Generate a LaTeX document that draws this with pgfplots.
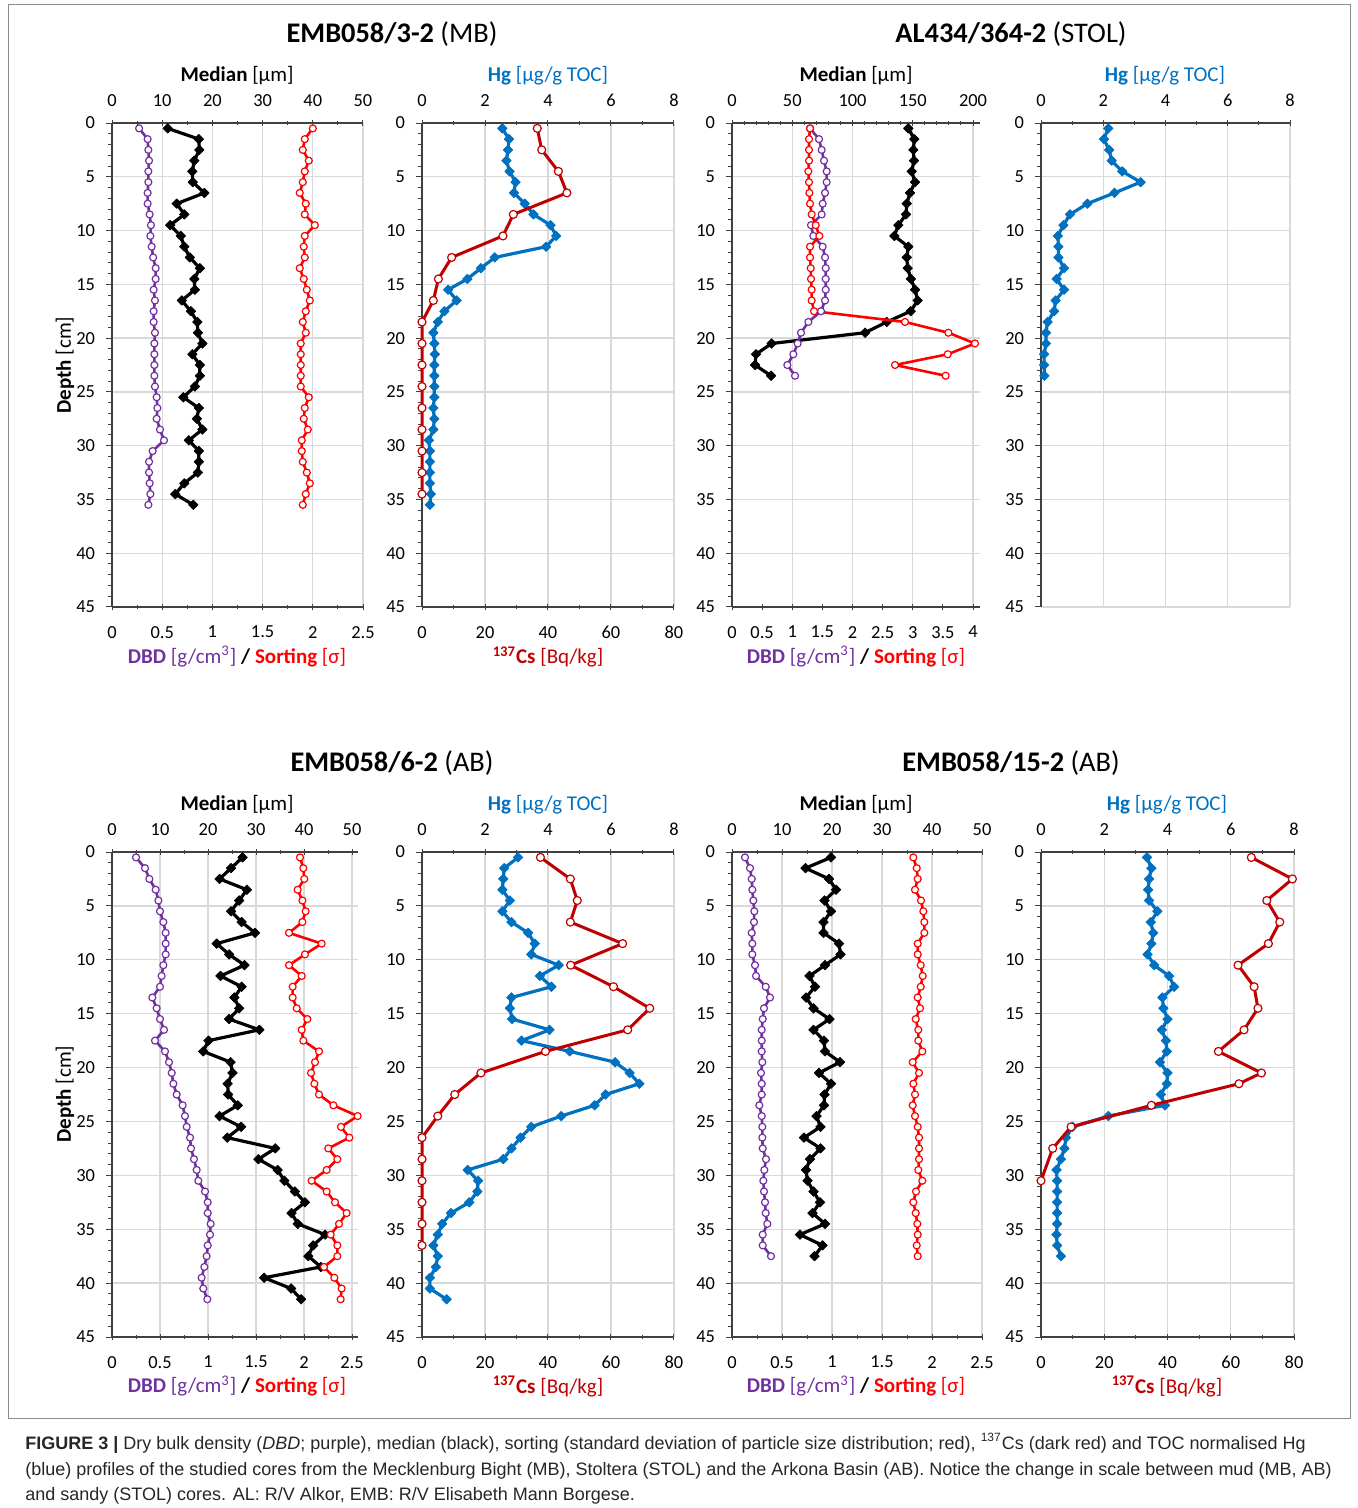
\documentclass[border=0pt]{standalone}
\usepackage{pgfplots}
\pgfplotsset{compat=1.18}
\usepackage{pgfplotstable}
\usepackage{graphicx}
\usepackage{fontspec}
\setmainfont{Carlito}
\newfontfamily\capfont{Liberation Sans}

\definecolor{purp}{HTML}{7030A0}
\definecolor{srtred}{HTML}{FF0000}
\definecolor{csred}{HTML}{C00000}
\definecolor{hgblue}{HTML}{0070C0}

\newcommand\labfont{\fontsize{10.5}{12}\selectfont}
\newcommand\titfont{\fontsize{14.2}{16}\selectfont}

% ---------- EMB058/3-2 ----------
\pgfplotstableread{
d dbd med srt
0.5 0.270 11.1 2.00
1.5 0.355 17.3 1.92
2.5 0.362 17.4 1.90
3.5 0.369 16.4 1.96
4.5 0.362 16.0 1.92
5.5 0.362 16.1 1.90
6.5 0.355 18.4 1.87
7.5 0.355 12.9 1.93
8.5 0.375 14.4 1.92
9.5 0.388 11.6 2.02
10.5 0.382 13.7 1.92
11.5 0.395 14.4 1.91
12.5 0.410 15.5 1.92
13.5 0.435 17.5 1.87
14.5 0.435 16.4 1.91
15.5 0.415 16.5 1.94
16.5 0.428 13.9 1.97
17.5 0.415 15.7 1.93
18.5 0.415 17.0 1.90
19.5 0.428 17.1 1.93
20.5 0.422 18.0 1.88
21.5 0.422 16.0 1.88
22.5 0.422 17.5 1.88
23.5 0.422 17.5 1.88
24.5 0.428 16.5 1.88
25.5 0.445 14.2 1.96
26.5 0.452 17.3 1.92
27.5 0.445 16.9 1.91
28.5 0.478 18.0 1.95
29.5 0.518 15.3 1.89
30.5 0.405 17.3 1.89
31.5 0.369 17.3 1.90
32.5 0.369 17.1 1.94
33.5 0.375 14.4 1.97
34.5 0.382 12.6 1.93
35.5 0.362 16.2 1.90
}\tA
\pgfplotstableread{
d hg
0.5 2.55
1.5 2.76
2.5 2.73
3.5 2.68
4.5 2.78
5.5 2.97
6.5 2.92
7.5 3.26
8.5 3.54
9.5 4.08
10.5 4.26
11.5 3.94
12.5 2.31
13.5 1.87
14.5 1.44
15.5 0.83
16.5 1.10
17.5 0.71
18.5 0.50
19.5 0.36
20.5 0.39
21.5 0.41
22.5 0.39
23.5 0.39
24.5 0.39
25.5 0.39
26.5 0.36
27.5 0.39
28.5 0.36
29.5 0.22
30.5 0.25
31.5 0.25
32.5 0.25
33.5 0.25
34.5 0.28
35.5 0.25
}\tB
\pgfplotstableread{
d cs
0.5 36.6
2.5 38.0
4.5 43.3
6.5 46.0
8.5 29.0
10.5 25.7
12.5 9.4
14.5 5.2
16.5 3.6
18.5 0
20.5 0
22.5 0
24.5 0
26.5 0
28.5 0
30.5 0
32.5 0
34.5 0
}\tBc
% ---------- AL434/364-2 ----------
\pgfplotstableread{
d dbd med srt
0.5 1.295 146.3 1.295
1.5 1.444 151.3 1.278
2.5 1.488 150.5 1.278
3.5 1.527 151.0 1.278
4.5 1.571 149.1 1.267
5.5 1.571 151.9 1.278
6.5 1.544 147.7 1.284
7.5 1.505 145.0 1.295
8.5 1.488 144.4 1.322
9.5 1.311 138.0 1.389
10.5 1.350 134.7 1.450
11.5 1.505 146.3 1.295
12.5 1.544 145.0 1.295
13.5 1.555 145.8 1.306
14.5 1.555 148.5 1.311
15.5 1.555 151.9 1.322
16.5 1.544 154.1 1.322
17.5 1.477 148.3 1.361
18.5 1.267 128.4 2.871
19.5 1.145 110.4 3.591
20.5 1.090 32.9 4.033
21.5 1.018 19.9 3.580
22.5 0.918 19.1 2.705
23.5 1.046 32.4 3.546
}\tC
\pgfplotstableread{
d hg
0.5 2.16
1.5 2.02
2.5 2.19
3.5 2.27
4.5 2.61
5.5 3.20
6.5 2.36
7.5 1.49
8.5 0.93
9.5 0.72
10.5 0.54
11.5 0.56
12.5 0.56
13.5 0.74
14.5 0.50
15.5 0.74
16.5 0.47
17.5 0.42
18.5 0.21
19.5 0.16
20.5 0.16
21.5 0.10
22.5 0.10
23.5 0.11
}\tD
% ---------- EMB058/6-2 ----------
\pgfplotstableread{
d dbd med srt
0.5 0.250 27.2 1.958
1.5 0.344 24.8 1.993
2.5 0.389 22.4 2.003
3.5 0.455 28.1 1.934
4.5 0.483 26.5 1.983
5.5 0.500 24.8 2.017
6.5 0.535 27.0 1.983
7.5 0.559 29.8 1.844
8.5 0.559 21.8 2.184
9.5 0.559 24.4 2.010
10.5 0.535 27.6 1.844
11.5 0.517 22.6 1.976
12.5 0.500 27.0 1.882
13.5 0.420 25.5 1.882
14.5 0.465 26.5 1.924
15.5 0.500 24.4 2.035
16.5 0.542 30.7 1.976
17.5 0.448 20.1 1.993
18.5 0.552 19.0 2.156
19.5 0.594 24.7 2.115
20.5 0.622 25.1 2.073
21.5 0.639 24.1 2.108
22.5 0.674 24.2 2.156
23.5 0.736 26.2 2.306
24.5 0.760 22.4 2.559
25.5 0.778 26.9 2.385
26.5 0.813 24.0 2.472
27.5 0.823 34.0 2.253
28.5 0.854 30.5 2.347
29.5 0.882 34.5 2.236
30.5 0.899 35.9 2.080
31.5 0.969 38.1 2.236
32.5 0.997 40.2 2.323
33.5 0.997 37.4 2.444
34.5 1.028 38.7 2.365
35.5 1.021 44.4 2.278
36.5 0.997 41.9 2.347
37.5 0.986 40.9 2.347
38.5 0.962 43.5 2.208
39.5 0.934 31.7 2.316
40.5 0.951 37.3 2.392
41.5 0.993 39.4 2.382
}\tE
\pgfplotstableread{
d hg
0.5 3.05
1.5 2.61
2.5 2.58
3.5 2.55
4.5 2.79
5.5 2.55
6.5 2.84
7.5 3.37
8.5 3.58
9.5 3.47
10.5 4.34
11.5 3.74
12.5 4.11
13.5 2.84
14.5 2.79
15.5 2.86
16.5 4.05
17.5 3.16
18.5 4.69
19.5 6.13
20.5 6.59
21.5 6.90
22.5 5.83
23.5 5.48
24.5 4.42
25.5 3.47
26.5 3.13
27.5 2.84
28.5 2.58
29.5 1.45
30.5 1.78
31.5 1.76
32.5 1.50
33.5 0.92
34.5 0.64
35.5 0.50
36.5 0.36
37.5 0.50
38.5 0.44
39.5 0.25
40.5 0.25
41.5 0.78
}\tF
\pgfplotstableread{
d cs
0.5 37.6
2.5 47.1
4.5 49.3
6.5 47.1
8.5 63.7
10.5 47.2
12.5 60.8
14.5 72.3
16.5 65.3
18.5 39.2
20.5 18.7
22.5 10.4
24.5 5.0
26.5 0
28.5 0
30.5 0
32.5 0
34.5 0
36.5 0
}\tFc
% ---------- EMB058/15-2 ----------
\pgfplotstableread{
d dbd med srt
0.5 0.130 19.8 1.813
1.5 0.180 14.7 1.847
2.5 0.197 19.4 1.857
3.5 0.203 20.8 1.830
4.5 0.213 18.5 1.890
5.5 0.223 19.8 1.913
6.5 0.220 18.3 1.923
7.5 0.197 18.3 1.923
8.5 0.203 21.4 1.857
9.5 0.203 21.7 1.857
10.5 0.230 18.6 1.887
11.5 0.240 15.5 1.907
12.5 0.337 16.6 1.887
13.5 0.380 14.8 1.857
14.5 0.320 16.3 1.880
15.5 0.307 19.5 1.837
16.5 0.297 16.3 1.863
17.5 0.297 18.4 1.863
18.5 0.297 18.6 1.903
19.5 0.303 21.6 1.807
20.5 0.290 17.4 1.870
21.5 0.297 19.8 1.813
22.5 0.297 18.5 1.830
23.5 0.273 18.4 1.807
24.5 0.297 16.9 1.830
25.5 0.303 17.7 1.857
26.5 0.303 14.4 1.870
27.5 0.307 17.7 1.870
28.5 0.340 15.6 1.870
29.5 0.323 14.8 1.863
30.5 0.313 15.1 1.903
31.5 0.320 16.3 1.840
32.5 0.330 17.6 1.813
33.5 0.337 16.1 1.837
34.5 0.353 18.6 1.853
35.5 0.307 13.6 1.857
36.5 0.307 18.1 1.847
37.5 0.390 16.5 1.857
}\tG
\pgfplotstableread{
d hg
0.5 3.35
1.5 3.49
2.5 3.42
3.5 3.39
4.5 3.42
5.5 3.68
6.5 3.47
7.5 3.55
8.5 3.49
9.5 3.37
10.5 3.58
11.5 4.05
12.5 4.21
13.5 3.84
14.5 3.87
15.5 4.00
16.5 3.82
17.5 3.95
18.5 3.98
19.5 3.76
20.5 4.00
21.5 3.98
22.5 3.79
23.5 3.92
24.5 2.13
25.5 1.00
26.5 0.79
27.5 0.74
28.5 0.63
29.5 0.49
30.5 0.51
31.5 0.51
32.5 0.51
33.5 0.51
34.5 0.51
35.5 0.49
36.5 0.51
37.5 0.63
}\tH
\pgfplotstableread{
d cs
0.5 66.5
2.5 79.5
4.5 71.4
6.5 75.5
8.5 71.9
10.5 62.3
12.5 67.4
14.5 68.6
16.5 64.2
18.5 56.1
20.5 69.7
21.5 62.6
23.5 34.9
25.5 9.5
27.5 3.7
30.5 0
}\tHc

\pgfplotsset{
  panel/.style={scale only axis, y dir=reverse, ymin=0, ymax=45, xmin=0,
    anchor=north west, clip=false,
    tick label style={font=\fontsize{9.2}{10}\selectfont},
    /pgf/number format/assume math mode=true,
    major tick length=3pt, minor tick length=2pt,
    axis line style={black!75, line width=0.6pt},
    tick style={black!75, line width=0.5pt},
    xtick align=center,
  },
  gridaxis/.style={panel, axis x line*=top, axis y line*=left,
    xticklabel shift=3pt,
    ytick={0,5,...,45}, minor ytick={0,1,...,45}, ytick align=outside,
    yticklabel shift=2pt,
    ymajorgrids, xmajorgrids, grid style={black!15, line width=0.7pt}},
  botaxis/.style={panel, axis x line*=bottom, hide y axis, xticklabel shift=4.5pt},
  pDBD/.style={color=purp, line width=1.3pt, line join=round, mark=*, mark size=1.75pt,
    mark options={fill=white, draw=purp, line width=0.6pt}},
  pSRT/.style={color=srtred, line width=1.3pt, line join=round, mark=*, mark size=1.75pt,
    mark options={fill=white, draw=srtred, line width=0.6pt}},
  pCS/.style={color=csred, line width=1.5pt, line join=round, mark=*, mark size=2pt,
    mark options={fill=white, draw=csred, line width=0.6pt}},
  pMED/.style={color=black, line width=1.6pt, line join=round, mark=square*, mark size=1.7pt,
    mark options={rotate=45, line width=0.3pt}},
  pHG/.style={color=hgblue, line width=1.6pt, line join=round, mark=square*, mark size=1.7pt,
    mark options={rotate=45, line width=0.3pt}},
  medtop/.style={xmax=50, xtick={0,10,20,30,40,50}, minor xtick={5,15,25,35,45}},
  dbdbot/.style={xmax=2.5, xtick={0,0.5,1,1.5,2,2.5}, minor xtick={0.25,0.75,1.25,1.75,2.25}},
  hgtop/.style={xmax=8, xtick={0,2,4,6,8}, minor xtick={1,3,5,7}},
  csbot/.style={xmax=80, xtick={0,20,40,60,80}, minor xtick={10,30,50,70}},
}

\begin{document}
\begin{tikzpicture}
\useasboundingbox (0,0) rectangle (678.5pt,-754pt);

% ===== Panel 1: EMB058/3-2 sediment =====
\begin{axis}[gridaxis, medtop, at={(56pt,-61.5pt)}, width=125.5pt, height=242pt]
\addplot[pMED] table[x=med,y=d]{\tA};
\end{axis}
\begin{axis}[botaxis, dbdbot, at={(56pt,-61.5pt)}, width=125.5pt, height=242pt]
\addplot[pDBD] table[x=dbd,y=d]{\tA};
\addplot[pSRT] table[x=srt,y=d]{\tA};
\end{axis}

% ===== Panel 2: EMB058/3-2 Hg/Cs =====
\begin{axis}[gridaxis, hgtop, at={(211pt,-61.5pt)}, width=126pt, height=242pt]
\addplot[pHG] table[x=hg,y=d]{\tB};
\end{axis}
\begin{axis}[botaxis, csbot, at={(211pt,-61.5pt)}, width=126pt, height=242pt]
\addplot[pCS] table[x=cs,y=d]{\tBc};
\end{axis}

% ===== Panel 3: AL434/364-2 sediment =====
\begin{axis}[gridaxis, at={(366pt,-61.5pt)}, width=124pt, height=242pt,
  xmax=205.8, xtick={0,50,100,150,200}, minor xtick={10,20,30,40,60,70,80,90,110,120,130,140,160,170,180,190}]
\addplot[pMED] table[x=med,y=d]{\tC};
\end{axis}
\begin{axis}[botaxis, at={(366pt,-61.5pt)}, width=124pt, height=242pt,
  xmax=4.116, xtick={0,0.5,1,1.5,2,2.5,3,3.5,4}]
\addplot[pDBD] table[x=dbd,y=d]{\tC};
\addplot[pSRT] table[x=srt,y=d]{\tC};
\end{axis}

% ===== Panel 4: AL434/364-2 Hg =====
\begin{axis}[gridaxis, hgtop, at={(520.5pt,-61.5pt)}, width=124.5pt, height=242pt]
\addplot[pHG] table[x=hg,y=d]{\tD};
\end{axis}

% ===== Panel 5: EMB058/6-2 sediment =====
\begin{axis}[gridaxis, at={(56pt,-426pt)}, width=123pt, height=242.5pt,
  xmax=51.25, xtick={0,10,20,30,40,50}, minor xtick={5,15,25,35,45}]
\addplot[pMED] table[x=med,y=d]{\tE};
\end{axis}
\begin{axis}[botaxis, at={(56pt,-426pt)}, width=123pt, height=242.5pt,
  xmax=2.5625, xtick={0,0.5,1,1.5,2,2.5}, minor xtick={0.25,0.75,1.25,1.75,2.25}]
\addplot[pDBD] table[x=dbd,y=d]{\tE};
\addplot[pSRT] table[x=srt,y=d]{\tE};
\end{axis}

% ===== Panel 6: EMB058/6-2 Hg/Cs =====
\begin{axis}[gridaxis, hgtop, at={(211pt,-426pt)}, width=126pt, height=242.5pt]
\addplot[pHG] table[x=hg,y=d]{\tF};
\end{axis}
\begin{axis}[botaxis, csbot, at={(211pt,-426pt)}, width=126pt, height=242.5pt]
\addplot[pCS] table[x=cs,y=d]{\tFc};
\end{axis}

% ===== Panel 7: EMB058/15-2 sediment =====
\begin{axis}[gridaxis, medtop, at={(366pt,-426pt)}, width=125pt, height=242.5pt]
\addplot[pMED] table[x=med,y=d]{\tG};
\end{axis}
\begin{axis}[botaxis, dbdbot, at={(366pt,-426pt)}, width=125pt, height=242.5pt]
\addplot[pDBD] table[x=dbd,y=d]{\tG};
\addplot[pSRT] table[x=srt,y=d]{\tG};
\end{axis}

% ===== Panel 8: EMB058/15-2 Hg/Cs =====
\begin{axis}[gridaxis, hgtop, at={(520.5pt,-426pt)}, width=126.5pt, height=242.5pt]
\addplot[pHG] table[x=hg,y=d]{\tH};
\end{axis}
\begin{axis}[botaxis, csbot, at={(520.5pt,-426pt)}, width=126.5pt, height=242.5pt]
\addplot[pCS] table[x=cs,y=d]{\tHc};
\end{axis}

% ===== Text =====
\begin{scope}[x=0.5pt,y=-0.5pt]
\draw[black!45, line width=0.5pt] (8,5) rectangle (1350,1418);
% titles
\node[font=\titfont] at (392,34) {\textbf{EMB058/3-2} (MB)};
\node[font=\titfont] at (1011,34) {\textbf{AL434/364-2} (STOL)};
\node[font=\titfont] at (392,763) {\textbf{EMB058/6-2} (AB)};
\node[font=\titfont] at (1011,763) {\textbf{EMB058/15-2} (AB)};
% top axis labels
\foreach \yy in {76,805}{
  \node[font=\labfont] at (237,\yy) {\textbf{Median} [µm]};
  \node[font=\labfont, text=hgblue] at (548,\yy) {\textbf{Hg} [µg/g TOC]};
  \node[font=\labfont] at (856,\yy) {\textbf{Median} [µm]};
}
\node[font=\labfont, text=hgblue] at (1165,76) {\textbf{Hg} [µg/g TOC]};
\node[font=\labfont, text=hgblue] at (1167,805) {\textbf{Hg} [µg/g TOC]};
% bottom axis labels
\foreach \yy in {657,1386}{
  \node[font=\labfont] at (237,\yy) {{\color{purp}\textbf{DBD} [g/cm\textsuperscript{3}]} \textbf{/} {\color{srtred}\textbf{Sorting} [σ]}};
  \node[font=\labfont, text=csred] at (548,\yy) {\textbf{\textsuperscript{137}Cs} [Bq/kg]};
  \node[font=\labfont] at (856,\yy) {{\color{purp}\textbf{DBD} [g/cm\textsuperscript{3}]} \textbf{/} {\color{srtred}\textbf{Sorting} [σ]}};
}
\node[font=\labfont, text=csred] at (1167,1386) {\textbf{\textsuperscript{137}Cs} [Bq/kg]};
% depth labels
\node[font=\labfont, rotate=90] at (65,365) {\textbf{Depth} [cm]};
\node[font=\labfont, rotate=90] at (65,1094) {\textbf{Depth} [cm]};
% caption
\node[anchor=base west, inner sep=0pt, font=\capfont\fontsize{9}{10}\selectfont, text=black!85] at (25,1449)
  {\textbf{FIGURE 3 |} Dry bulk density (\textit{DBD}; purple), median (black), sorting (standard deviation of particle size distribution; red), \textsuperscript{137}Cs (dark red) and TOC normalised Hg};
\node[anchor=base west, inner sep=0pt, font=\capfont\fontsize{9}{10}\selectfont, text=black!85] at (25,1475)
  {(blue) profiles of the studied cores from the Mecklenburg Bight (MB), Stoltera (STOL) and the Arkona Basin (AB). Notice the change in scale between mud (MB, AB)};
\node[anchor=base west, inner sep=0pt, font=\capfont\fontsize{9}{10}\selectfont, text=black!85] at (25,1500)
  {and sandy (STOL) cores. AL: R/V Alkor, EMB: R/V Elisabeth Mann Borgese.};
\end{scope}
\end{tikzpicture}
\end{document}
